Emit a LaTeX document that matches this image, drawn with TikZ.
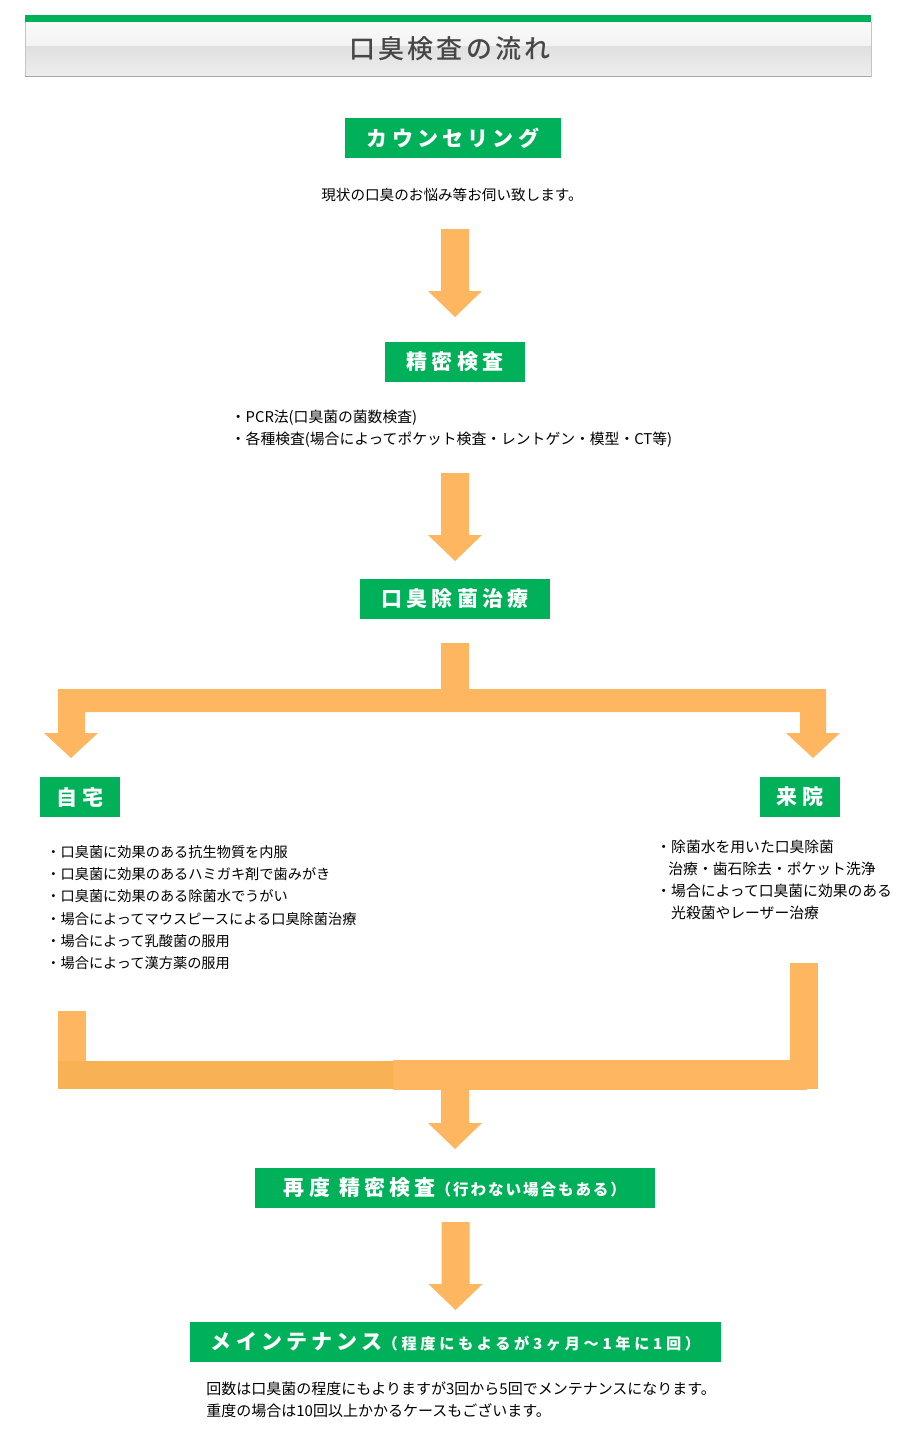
\documentclass[tikz,border=0pt]{standalone}
\usepackage{fontspec}
\setmainfont{Noto Sans CJK JP}
\newfontfamily\headfont{Noto Sans CJK JP Medium}[LetterSpace=12]
\newfontfamily\boxfont{Noto Sans CJK JP}[LetterSpace=20]
\newfontfamily\subfont{Noto Sans CJK JP}[LetterSpace=12]
\newfontfamily\subwidefont{Noto Sans CJK JP}[LetterSpace=24]
\definecolor{stepgreen}{HTML}{00B159}
\definecolor{flowc}{HTML}{FFB661}
\definecolor{flowdk}{HTML}{F9B155}
\definecolor{barline}{HTML}{C4C4C4}
\tikzset{
  stepbox/.style={fill=stepgreen, text=white, inner sep=0pt, minimum height=20pt,
    font=\boxfont\bfseries\fontsize{10.5}{12}\selectfont},
  note/.style={inner sep=0pt, align=left, text=black,
    font=\fontsize{7.2}{11.2}\selectfont},
}
% block arrow: x, y of stem top, y of tip
\newcommand{\flowdown}[3]{%
  \fill[flowc] (#1-14,#2) -- (#1+14,#2) -- (#1+14,#3-26) -- (#1+27,#3-26)
    -- (#1,#3) -- (#1-27,#3-26) -- (#1-14,#3-26) -- cycle;}

\begin{document}
\begin{tikzpicture}[x=0.5pt,y=-0.5pt]
\useasboundingbox (0,0) rectangle (897,1450);
% Title bar
\fill[stepgreen] (25,15) rectangle (871,22.5);
\shade[top color=white!98!black, bottom color=white!95!black] (25,22.5) rectangle (871,47);
\shade[top color=white!88!black, bottom color=white!93!black] (25,47) rectangle (871,76);
\draw[barline] (25,22.5) -- (25,76) -- (871,76) -- (871,22.5);
\draw[black!35] (25,76) -- (871,76);
\node[font=\headfont\fontsize{13}{15}\selectfont, text=black!72] (title) at (450,49) {口臭検査の流れ};
% Counselling
\node[stepbox, minimum width=108pt] (counsel) at (453,138) {カウンセリング};
\node[note, font=\fontsize{7.3}{11.2}\selectfont] (counselnote) at (452,195) {現状の口臭のお悩み等お伺い致します。};
\flowdown{455}{229}{317}
% Close examination
\node[stepbox, minimum width=70pt] (exam) at (455,362) {精密検査};
\node[note, anchor=west, font=\fontsize{7.4}{11.2}\selectfont] (examnote) at (230.5,429)
  {・PCR法(口臭菌の菌数検査)\\・各種検査(場合によってポケット検査・レントゲン・模型・CT等)};
\flowdown{455}{473}{561}
% Treatment
\node[stepbox, minimum width=95pt] (treat) at (455,599) {口臭除菌治療};
% Branch to home / clinic
\fill[flowc] (441,643) -- (469,643) -- (469,689) -- (826,689) -- (826,733) -- (840,733)
  -- (813,758) -- (786,733) -- (800,733) -- (800,712) -- (85,712) -- (85,733)
  -- (98,733) -- (71,758) -- (44,733) -- (58,733) -- (58,689) -- (441,689) -- cycle;
\node[stepbox, minimum width=40pt] (home) at (80,797) {自宅};
\node[stepbox, minimum width=40pt] (clinic) at (800,797) {来院};
\node[note, anchor=west, font=\fontsize{7.1}{11.15}\selectfont] (homenote) at (46,907.5)
  {・口臭菌に効果のある抗生物質を内服\\
   ・口臭菌に効果のあるハミガキ剤で歯みがき\\
   ・口臭菌に効果のある除菌水でうがい\\
   ・場合によってマウスピースによる口臭除菌治療\\
   ・場合によって乳酸菌の服用\\
   ・場合によって漢方薬の服用};
\node[note, anchor=west, font=\fontsize{7.4}{11}\selectfont] (clinicnote) at (656,880)
  {・除菌水を用いた口臭除菌\\
   \hspace*{6pt}治療・歯石除去・ポケット洗浄\\
   ・場合によって口臭菌に効果のある\\
   \hspace*{7.4pt}光殺菌やレーザー治療};
% Merge back
\fill[flowc] (58,1011) rectangle (86,1089);
\fill[flowc] (790,963) rectangle (818,1089);
\fill[flowdk] (58,1061) rectangle (397,1089);
\fill[flowc] (393,1060) rectangle (807,1090);
\flowdown{455}{1089}{1149}
% Re-examination
\node[stepbox, minimum width=200pt] (reexam) at (455,1188)
  {再度 精密検査{\subfont\bfseries\fontsize{7.8}{9}\selectfont （行わない場合もある）}};
\flowdown{455.5}{1222}{1310}
% Maintenance
\node[stepbox, minimum width=265.5pt] (maint) at (455.5,1342)
  {メインテナンス{\subwidefont\bfseries\fontsize{7.6}{9}\selectfont （程度にもよるが3ヶ月〜1年に1回）}};
\node[note, anchor=west, font=\fontsize{7.5}{11}\selectfont] (maintnote) at (206,1400)
  {回数は口臭菌の程度にもよりますが3回から5回でメンテナンスになります。\\
   重度の場合は10回以上かかるケースもございます。};
\end{tikzpicture}
\end{document}
